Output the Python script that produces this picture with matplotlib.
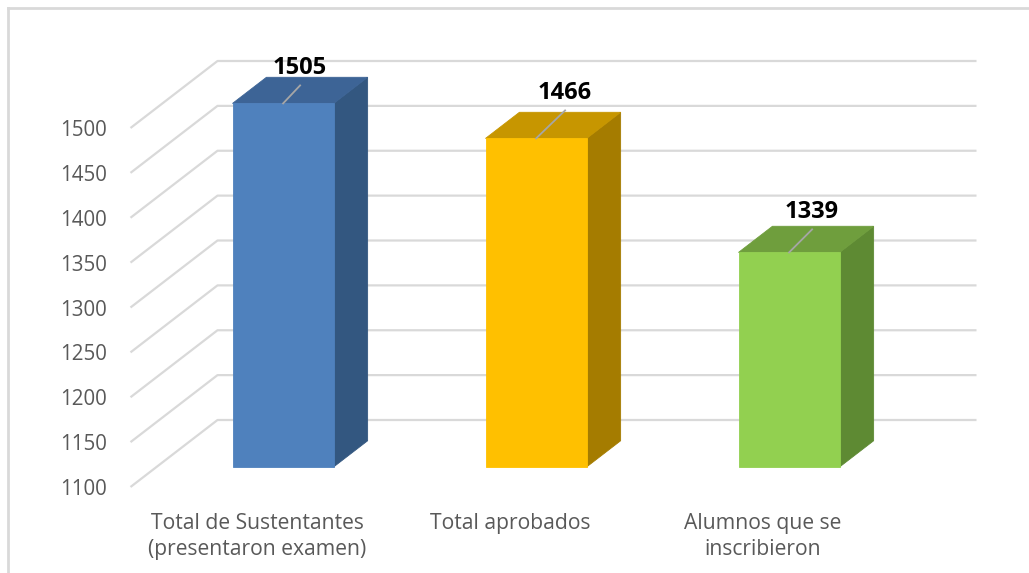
import matplotlib
matplotlib.use("Agg")
import matplotlib.pyplot as plt
from matplotlib.patches import Polygon
from matplotlib.lines import Line2D
import numpy as np

# ---------------- data ----------------
categories = ["Total de Sustentantes\n(presentaron examen)",
              "Total aprobados",
              "Alumnos que se\ninscribieron"]
values = [1505, 1466, 1339]
y_ticks = [1100, 1150, 1200, 1250, 1300, 1350, 1400, 1450, 1500]

# ---------------- style ----------------
front_colors = ["#4F81BD", "#FFC000", "#92D050"]
top_colors = ["#3D6496", "#C79600", "#6F9E3D"]
side_colors = ["#335780", "#A57C00", "#5E8A33"]
label_offsets_px = [(17, 18), (29, 28), (23, 23)]  # leader line direction per label
grid_color = "#D9D9D9"
text_color = "#595959"

W, H = 1029, 573
fig = plt.figure(figsize=(W / 100, H / 100), dpi=100)
fig.patch.set_facecolor("white")

ax = fig.add_axes([130.5 / W, (H - 487) / H, 759 / W, 359 / H])
ax.set_xlim(-0.5, 2.5)
ymin, ymax = y_ticks[0], y_ticks[-1]
ax.set_ylim(ymin, ymax)
for s in ax.spines.values():
    s.set_visible(False)
ax.set_facecolor("none")

# oblique depth offsets (data units)
DX = 87 / 253.0
DY = 67 / (359 / 400.0)
d0, d1 = 0.30, 0.69
bw = 0.40
xmin_c, xmax_c = -0.5, 2.5

# walls gridlines
for v in y_ticks:
    ax.add_line(Line2D([xmin_c, xmin_c + DX, xmax_c + DX], [v, v + DY, v + DY],
                       color=grid_color, lw=1.6, zorder=1, clip_on=False,
                       solid_capstyle="butt"))

# bars
for i, (v, fc, tc, sc) in enumerate(zip(values, front_colors, top_colors, side_colors)):
    xl, xr = i - bw / 2, i + bw / 2
    b = ymin
    front = [(xl + d0 * DX, b + d0 * DY), (xr + d0 * DX, b + d0 * DY),
             (xr + d0 * DX, v + d0 * DY), (xl + d0 * DX, v + d0 * DY)]
    top = [(xl + d0 * DX, v + d0 * DY), (xr + d0 * DX, v + d0 * DY),
           (xr + d1 * DX, v + d1 * DY), (xl + d1 * DX, v + d1 * DY)]
    side = [(xr + d0 * DX, b + d0 * DY), (xr + d1 * DX, b + d1 * DY),
            (xr + d1 * DX, v + d1 * DY), (xr + d0 * DX, v + d0 * DY)]
    for poly, c in ((side, sc), (top, tc), (front, fc)):
        ax.add_patch(Polygon(poly, closed=True, facecolor=c, edgecolor=c,
                             lw=0.6, zorder=3, clip_on=False))

    # leader line + value label
    xs, ys = i + d0 * DX, v + d0 * DY
    p0 = ax.transData.transform((xs, ys))
    ox, oy = label_offsets_px[i]
    p1 = p0 + np.array([ox, oy])
    end = ax.transData.inverted().transform(p1)
    ax.add_line(Line2D([xs, end[0]], [ys, end[1]], color="#A6A6A6", lw=1.3,
                       zorder=4, clip_on=False))
    ptxt = ax.transData.inverted().transform(p1 + np.array([0, 17]))
    ax.text(ptxt[0], ptxt[1], f"{v}", ha="center", va="center",
            fontsize=17, fontweight="bold", family=["Open Sans", "DejaVu Sans"],
            color="black", zorder=5, clip_on=False)

# ticks
ax.set_yticks(y_ticks)
ax.set_yticklabels([str(t) for t in y_ticks], family=["Open Sans", "DejaVu Sans"],
                   fontsize=14.8, color=text_color)
ax.set_xticks(range(len(categories)))
ax.set_xticklabels(categories, family=["Open Sans", "DejaVu Sans"],
                   fontsize=15.2, color=text_color, linespacing=1.3)
ax.tick_params(axis="y", length=0, pad=17)
ax.tick_params(axis="x", length=0, pad=19)

# outer chart border (partially cropped)
fig.add_artist(Line2D([8 / W, 1], [1 - 8 / H, 1 - 8 / H], transform=fig.transFigure,
                      color=grid_color, lw=2))
fig.add_artist(Line2D([8 / W, 8 / W], [0, 1 - 8 / H], transform=fig.transFigure,
                      color=grid_color, lw=2))

fig.savefig("out.png", dpi=100, facecolor="white")
